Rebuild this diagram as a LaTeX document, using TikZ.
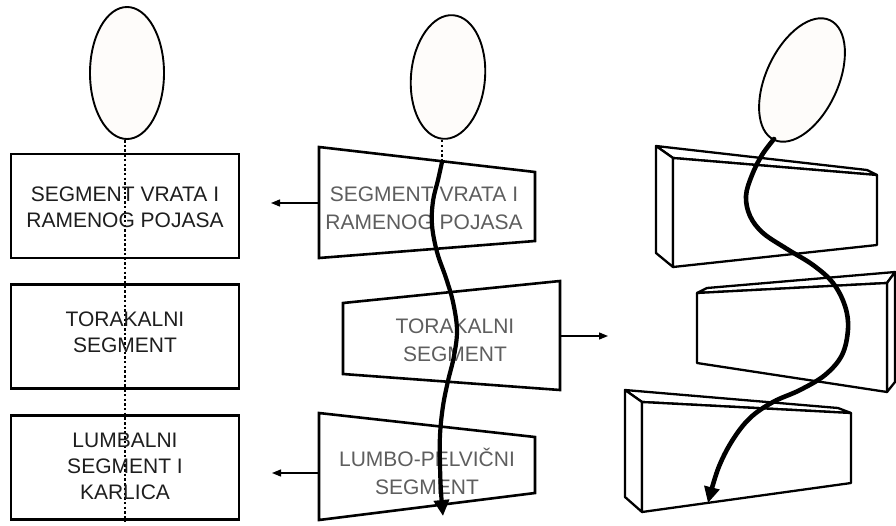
\documentclass[tikz,border=0pt]{standalone}
\usepackage{fontspec}
\setmainfont{Liberation Sans}
\usetikzlibrary{arrows.meta}
\definecolor{headfill}{HTML}{FEFCFA}
\definecolor{ink}{HTML}{1E1E1E}
\definecolor{greyink}{HTML}{5E5E5E}
\begin{document}
\begin{tikzpicture}[x=1pt,y=-1pt,
  box/.style={draw=black, line width=2.6pt, rectangle, minimum width=228pt,
    minimum height=104pt, inner sep=0pt},
  lbl/.style={font=\fontsize{21}{26}\selectfont, align=center, text=ink, inner sep=0pt},
  glbl/.style={font=\fontsize{21}{28}\selectfont, align=center, text=greyink, inner sep=0pt},
  trap/.style={draw=black, line width=2.6pt, line join=miter},
  head/.style={draw=black, line width=1.9pt, fill=headfill},
  spine/.style={line width=4.2pt, line cap=round, -{Triangle[length=16pt,width=15pt]}},
  pointer/.style={line width=1.3pt, -{Triangle[length=9pt,width=7pt]}},
  block/.style={draw=black, line width=2.3pt, line join=round, fill=white}]

\useasboundingbox (0,0) rectangle (896,525);
\fill[white] (0,0) rectangle (896,525);

% ---------- left column: head, dotted axis and three segment boxes ----------
\draw[head] (127,73) ellipse [x radius=37, y radius=66];
\coordinate (axtop) at (125,140);
\coordinate (axbot) at (125,522);
\draw[line width=1.4pt, dash pattern=on 2.5pt off 2.2pt] (axtop) -- (axbot);

\node[box] (b1) at (125,206) {};
\node[box] (b2) at (125,336.5) {};
\node[box] (b3) at (125,467.5) {};
\node[lbl] (l1) at (125,207) {SEGMENT VRATA I\\RAMENOG POJASA};
\node[lbl] (l2) at (125,332) {TORAKALNI\\SEGMENT};
\node[lbl] (l3) at (125,466) {LUMBALNI\\SEGMENT I\\KARLICA};

% ---------- middle column: tilted segments ----------
\draw[head, rotate around={-5:(448,77)}] (448,77) ellipse [x radius=37, y radius=62];

\coordinate (t1a) at (319,147); \coordinate (t1b) at (535,172);
\coordinate (t1c) at (535,241); \coordinate (t1d) at (319,258);
\coordinate (t2a) at (343,303); \coordinate (t2b) at (560,281);
\coordinate (t2c) at (560,390); \coordinate (t2d) at (343,374);
\coordinate (t3a) at (319,413); \coordinate (t3b) at (535,437);
\coordinate (t3c) at (535,493); \coordinate (t3d) at (319,520);
\draw[trap] (t1a) -- (t1b) -- (t1c) -- (t1d) -- cycle;
\draw[trap] (t2a) -- (t2b) -- (t2c) -- (t2d) -- cycle;
\draw[trap] (t3a) -- (t3b) -- (t3c) -- (t3d) -- cycle;

\node[glbl] (m1) at (424,208) {SEGMENT VRATA I\\RAMENOG POJASA};
\node[glbl] (m2) at (455,340) {TORAKALNI\\SEGMENT};
\node[glbl] (m3) at (427,471) {LUMBO-PELVIČNI\\SEGMENT};

% side pointers
\coordinate (p1s) at (319,203); \coordinate (p1e) at (271,203);
\coordinate (p2s) at (560,336); \coordinate (p2e) at (608,336);
\coordinate (p3s) at (319,473); \coordinate (p3e) at (272,473);
\draw[pointer] (p1s) -- (p1e);
\draw[pointer] (p2s) -- (p2e);
\draw[pointer] (p3s) -- (p3e);

% curved spine
\draw[line width=2.6pt, dash pattern=on 2.2pt off 2.6pt] (442,140) -- (442,162);
\draw[spine] plot[smooth, tension=0.6] coordinates {
  (442,162) (438,180) (433,201) (432,225) (437,252) (446,278) (453,302)
  (457,330) (454,356) (448,381) (443,406) (440,435) (440,465) (441,492) (443,516)};

% ---------- right column: three blocks in perspective ----------
% upper block
\draw[block] (656,146) -- (867,170) -- (877,175) -- (673,158) -- cycle;
\draw[block] (656,146) -- (673,158) -- (673,267) -- (656,253) -- cycle;
\draw[block] (673,158) -- (877,175) -- (877,245) -- (673,267) -- cycle;
% middle block
\draw[block] (707,288) -- (895,272) -- (887,283) -- (697,293) -- cycle;
\draw[block] (887,283) -- (895,272) -- (895,382) -- (887,392) -- cycle;
\draw[block] (697,293) -- (887,283) -- (887,392) -- (697,363) -- cycle;
% lower block
\draw[block] (625,390) -- (838,408) -- (851,413) -- (642,402) -- cycle;
\draw[block] (625,390) -- (642,402) -- (642,512) -- (625,497) -- cycle;
\draw[block] (642,402) -- (851,413) -- (851,483) -- (642,512) -- cycle;

\draw[head, rotate around={-25:(802,80)}] (802,80) ellipse [x radius=36, y radius=66];
\draw[spine, line width=4.6pt] plot[smooth, tension=0.6] coordinates {
  (774,139) (762,155) (752,175) (746,196) (750,216) (763,233) (787,249)
  (813,265) (833,283) (845,306) (848,329) (842,355) (825,375) (800,390)
  (773,402) (750,418) (732,441) (718,469) (708,503)};
\end{tikzpicture}
\end{document}
